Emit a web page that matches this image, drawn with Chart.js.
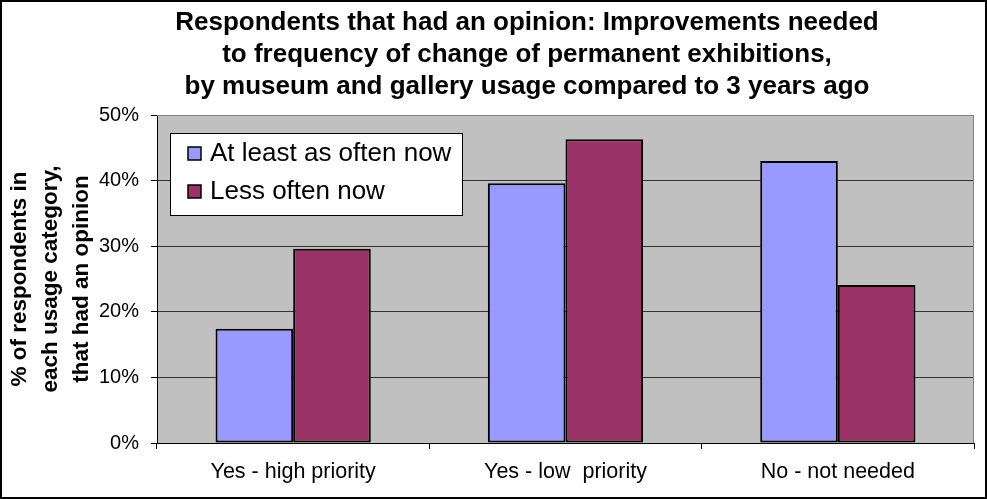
<!DOCTYPE html>
<html>
<head>
<meta charset="utf-8">
<script src="https://cdn.jsdelivr.net/npm/chart.js@4"></script>
<style>
    body { margin: 0; background: #fff; }
    #wrap { width: 987px; height: 499px; position: relative; }
</style>
</head>
<body>
<div id="wrap"><canvas id="barChart"></canvas></div>
<script>
const categories = ['Yes - high priority', 'Yes - low  priority', 'No - not needed'];
const seriesNames = ['At least as often now', 'Less often now'];
const atLeastAsOften = [17.4, 39.6, 43.0];
const lessOften = [29.6, 46.3, 24.1];
const yTicks = [0, 10, 20, 30, 40, 50];

const titleLines = [
    'Respondents that had an opinion: Improvements needed',
    'to frequency of change of permanent exhibitions,',
    'by museum and gallery usage compared to 3 years ago'
];
const yTitleLines = ['% of respondents in', 'each usage category,', 'that had an opinion'];

Chart.defaults.font.family = '"Liberation Sans", Arial, sans-serif';
Chart.defaults.color = '#000';

// grey plot background + outer frame
const plotBg = {
    id: 'plotBg',
    afterLayout(chart) {
        // title is centred over the plot, not the whole canvas
        if (chart.titleBlock) chart.titleBlock.left = 80;
    },
    beforeDraw(chart) {
        const {ctx, chartArea: a} = chart;
        ctx.save();
        ctx.fillStyle = '#C0C0C0';
        ctx.fillRect(a.left, a.top, a.right - a.left, a.bottom - a.top);
        ctx.restore();
    },
    afterDraw(chart) {
        const {ctx, chartArea: a, width, height} = chart;
        ctx.save();
        ctx.strokeStyle = '#808080';
        ctx.lineWidth = 1;
        ctx.beginPath();
        ctx.moveTo(a.left, a.top + 0.5);
        ctx.lineTo(a.right - 0.5, a.top + 0.5);
        ctx.lineTo(a.right - 0.5, a.bottom);
        ctx.stroke();
        ctx.strokeStyle = '#000';
        ctx.lineWidth = 2;
        ctx.strokeRect(1, 1, width - 2, height - 2);
        ctx.restore();
    }
};

// legend box drawn inside the plot area, top-left
const innerLegend = {
    id: 'innerLegend',
    afterDatasetsDraw(chart) {
        const {ctx, chartArea: a} = chart;
        const x = a.left + 13, y = a.top + 18, w = 292, h = 82;
        ctx.save();
        ctx.fillStyle = '#fff';
        ctx.fillRect(x, y, w, h);
        ctx.strokeStyle = '#000';
        ctx.lineWidth = 1;
        ctx.strokeRect(x + 0.5, y + 0.5, w, h);
        ctx.font = '26px "Liberation Sans", Arial, sans-serif';
        ctx.textBaseline = 'middle';
        chart.data.datasets.forEach((ds, i) => {
            const cy = y + 20 + i * 38;
            ctx.fillStyle = ds.backgroundColor;
            ctx.fillRect(x + 18, cy - 6, 13, 13);
            ctx.strokeStyle = '#000';
            ctx.lineWidth = 1.5;
            ctx.strokeRect(x + 18, cy - 6, 13, 13);
            ctx.fillStyle = '#000';
            ctx.fillText(ds.label, x + 40, cy + 1);
        });
        ctx.restore();
    }
};

const ctxBar = document.getElementById('barChart').getContext('2d');
new Chart(ctxBar, {
    type: 'bar',
    data: {
        labels: categories,
        datasets: [{
            label: seriesNames[0],
            data: atLeastAsOften,
            backgroundColor: '#9999FF',
            borderColor: '#000',
            borderWidth: 2,
            borderSkipped: false
        }, {
            label: seriesNames[1],
            data: lessOften,
            backgroundColor: '#993366',
            borderColor: '#000',
            borderWidth: 2,
            borderSkipped: false
        }]
    },
    options: {
        responsive: true,
        maintainAspectRatio: false,
        animation: false,
        layout: { padding: { left: 0, right: 13, top: 0, bottom: 0 } },
        datasets: { bar: { categoryPercentage: 0.57, barPercentage: 1.0 } },
        plugins: {
            legend: { display: false },
            tooltip: { enabled: false },
            title: {
                display: true,
                text: titleLines,
                color: '#000',
                font: { size: 26, weight: 'bold', lineHeight: '32px' },
                padding: { top: 7, bottom: 12 }
            }
        },
        scales: {
            x: {
                offset: true,
                grid: { offset: true, drawOnChartArea: false, tickLength: 6, color: '#000' },
                border: { color: '#000', width: 1 },
                ticks: { font: { size: 21.5 }, padding: 10, maxRotation: 0 },
                afterFit(scale) { scale.height = 56; }
            },
            y: {
                min: 0,
                max: 50,
                afterBuildTicks(scale) { scale.ticks = yTicks.map(v => ({ value: v })); },
                grid: {
                    color: ctx => (ctx.tick && ctx.tick.value === 50) ? '#808080' : '#333',
                    tickColor: '#000',
                    tickLength: 6
                },
                border: { color: '#000', width: 1 },
                ticks: {
                    font: { size: 20 },
                    padding: 12,
                    callback: v => v + '%'
                },
                title: {
                    display: true,
                    text: yTitleLines,
                    font: { size: 22.5, weight: 'bold', lineHeight: '31px' },
                    padding: { top: 4, bottom: 0 }
                },
                afterFit(scale) { scale.width = 157; }
            }
        }
    },
    plugins: [plotBg, innerLegend]
});
</script>
</body>
</html>
